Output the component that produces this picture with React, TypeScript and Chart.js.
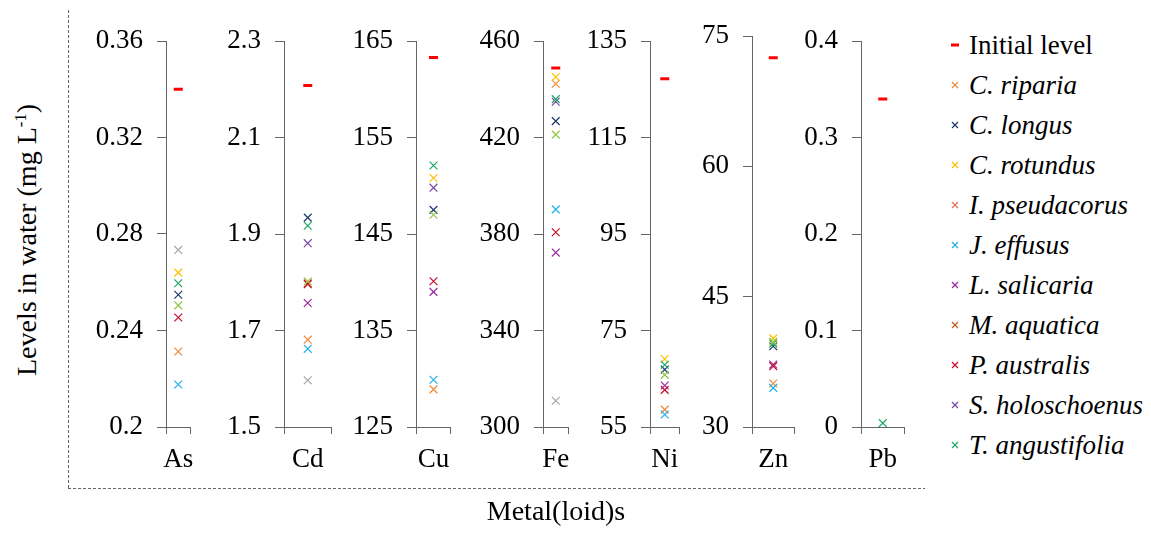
import React, { useEffect, useRef } from 'react';
import { Chart, registerables } from 'chart.js';

Chart.register(...registerables);

const FONT = 'Times New Roman';

// ---- categories and axis ticks ----
const metals = ['As', 'Cd', 'Cu', 'Fe', 'Ni', 'Zn', 'Pb'];
const ticksAs = [0.2, 0.24, 0.28, 0.32, 0.36];
const ticksCd = [1.5, 1.7, 1.9, 2.1, 2.3];
const ticksCu = [125, 135, 145, 155, 165];
const ticksFe = [300, 340, 380, 420, 460];
const ticksNi = [55, 75, 95, 115, 135];
const ticksZn = [30, 45, 60, 75];
const ticksPb = [0, 0.1, 0.2, 0.3, 0.4];
const tickSets = [ticksAs, ticksCd, ticksCu, ticksFe, ticksNi, ticksZn, ticksPb];

// ---- series values (As, Cd, Cu, Fe, Ni, Zn, Pb) ----
const initialLevel = [0.34, 2.208, 163.3, 448.8, 127.2, 72.5, 0.34];
const cRiparia = [0.2313, 1.681, 128.9, 442.3, 58.6, 35.0, null];
const cLongus = [0.2548, 1.934, 147.5, 426.8, 66.9, 39.3, null];
const cRotundus = [0.264, null, 150.8, 445.1, 69.1, 40.2, null];
const iPseudacorus = [null, null, null, null, null, null, null];
const jEffusus = [0.2176, 1.662, 129.9, 390.2, 57.6, 34.5, null];
const lSalicaria = [null, 1.757, 139.0, 372.3, 63.6, 37.2, null];
const mAquatica = [null, 1.798, null, null, null, null, null];
const pAustralis = [0.2454, 1.796, 140.1, 380.7, 62.7, 37.0, null];
const sHoloschoenus = [null, 1.881, 149.8, 434.8, null, null, null];
const tAngustifolia = [0.2596, 1.917, 152.1, 435.9, 67.9, 39.6, 0.004];
const unlistedGrey = [0.2734, 1.597, null, 310.9, null, null, null];
const unlistedLime = [0.2504, 1.802, 147.0, 421.2, 65.8, 39.8, null];

const species = [
  { name: 'C. riparia', values: cRiparia, color: '#EE8A3C', legend: true },
  { name: 'C. longus', values: cLongus, color: '#1F3A6E', legend: true },
  { name: 'C. rotundus', values: cRotundus, color: '#FFC000', legend: true },
  { name: 'I. pseudacorus', values: iPseudacorus, color: '#E8705A', legend: true },
  { name: 'J. effusus', values: jEffusus, color: '#22B2E8', legend: true },
  { name: 'L. salicaria', values: lSalicaria, color: '#9B2A9E', legend: true },
  { name: 'M. aquatica', values: mAquatica, color: '#C0601E', legend: true },
  { name: 'P. australis', values: pAustralis, color: '#C8102E', legend: true },
  { name: 'S. holoschoenus', values: sHoloschoenus, color: '#7A4AA8', legend: true },
  { name: 'T. angustifolia', values: tAngustifolia, color: '#1FA86A', legend: true },
  { name: 'Unlisted (grey)', values: unlistedGrey, color: '#A6A6A6', legend: false },
  { name: 'Unlisted (lime)', values: unlistedLime, color: '#92C84A', legend: false },
];

// ---- panel layout (pixels) ----
const panelAxisX = [166, 284, 416, 543, 650, 752, 861];
const panelRight = [205, 337, 461, 581, 690, 800, 910];
const panelTop = [41, 41, 41, 41, 41, 36, 41];
const AXIS_W = 75;
const CANVAS_H = 535;
const PLOT_BOTTOM = 427;
const XAXIS_H = 60;

const fmt = (v: number) => String(Number(Number(v).toFixed(4)));

function makeChart(canvas: HTMLCanvasElement, i: number) {
  const datasets: any[] = [
    {
      label: 'Initial level',
      data: [initialLevel[i]],
      showLine: false,
      pointStyle: 'line',
      pointRadius: 4.5,
      pointBorderWidth: 3,
      pointBorderColor: '#FF0000',
      pointBackgroundColor: '#FF0000',
      order: 0,
    },
    ...species.map((s, k) => ({
      label: s.name,
      data: [s.values[i]],
      showLine: false,
      pointStyle: 'crossRot',
      pointRadius: 5.5,
      pointBorderWidth: 1.2,
      pointBorderColor: s.color,
      pointBackgroundColor: s.color,
      order: -(k + 1),
    })),
  ];
  const ticks = tickSets[i];
  return new Chart(canvas, {
    type: 'line',
    data: { labels: [metals[i]], datasets },
    options: {
      animation: false,
      responsive: false,
      maintainAspectRatio: false,
      events: [],
      layout: {
        padding: {
          top: panelTop[i],
          bottom: CANVAS_H - PLOT_BOTTOM - XAXIS_H,
          left: 0,
          right: 2,
        },
      },
      plugins: { legend: { display: false }, tooltip: { enabled: false } },
      scales: {
        x: {
          type: 'category',
          offset: true,
          grid: {
            offset: true,
            drawOnChartArea: false,
            drawTicks: true,
            tickLength: 7,
            color: '#666666',
          },
          border: { display: true, color: '#666666', width: 1 },
          ticks: {
            font: { family: FONT, size: 27 },
            color: '#000000',
            padding: 10,
          },
          afterFit: (s: any) => {
            s.height = XAXIS_H;
          },
        },
        y: {
          type: 'linear',
          position: 'left',
          min: ticks[0],
          max: ticks[ticks.length - 1],
          afterBuildTicks: (s: any) => {
            s.ticks = ticks.map((v) => ({ value: v }));
          },
          grid: {
            drawOnChartArea: false,
            drawTicks: true,
            tickLength: 9,
            color: '#666666',
          },
          border: { display: true, color: '#666666', width: 1 },
          ticks: {
            font: { family: FONT, size: 27 },
            color: '#000000',
            padding: 14,
            callback: (v: any) => fmt(v),
          },
          afterFit: (s: any) => {
            s.width = AXIS_W;
          },
        },
      },
    },
  } as any);
}

function Marker({ color, dash }: { color: string; dash?: boolean }) {
  if (dash) {
    return (
      <svg width={10} height={10} style={{ display: 'block' }}>
        <line x1={1} y1={5} x2={9} y2={5} stroke={color} strokeWidth={3} />
      </svg>
    );
  }
  return (
    <svg width={10} height={10} style={{ display: 'block' }}>
      <line x1={2} y1={2} x2={8} y2={8} stroke={color} strokeWidth={1.2} />
      <line x1={8} y1={2} x2={2} y2={8} stroke={color} strokeWidth={1.2} />
    </svg>
  );
}

export default function App() {
  const refs = useRef<(HTMLCanvasElement | null)[]>([]);

  useEffect(() => {
    const charts = metals.map((_, i) => makeChart(refs.current[i] as HTMLCanvasElement, i));
    return () => charts.forEach((c) => c.destroy());
  }, []);

  const legendItems = [
    { name: 'Initial level', color: '#FF0000', dash: true, italic: false },
    ...species.filter((s) => s.legend).map((s) => ({ name: s.name, color: s.color, dash: false, italic: true })),
  ];

  return (
    <div style={{ position: 'relative', width: 1151, height: 535, margin: -8, background: '#ffffff' }}>
      <svg width={1151} height={535} style={{ position: 'absolute', left: 0, top: 0 }}>
        <line x1={68.5} y1={10} x2={68.5} y2={488.5} stroke="#666" strokeWidth={1} strokeDasharray="3 2" />
        <line x1={68} y1={488.5} x2={925} y2={488.5} stroke="#666" strokeWidth={1} strokeDasharray="3 2" />
      </svg>

      {metals.map((m, i) => {
        const w = panelRight[i] - panelAxisX[i] + AXIS_W + 2;
        return (
          <canvas
            key={m}
            ref={(el) => {
              refs.current[i] = el;
            }}
            width={w}
            height={CANVAS_H}
            style={{
              position: 'absolute',
              left: panelAxisX[i] - AXIS_W,
              top: 0,
              width: w,
              height: CANVAS_H,
            }}
          />
        );
      })}

      <div
        style={{
          position: 'absolute',
          left: 27,
          top: 240,
          transform: 'translate(-50%, -50%) rotate(-90deg)',
          whiteSpace: 'nowrap',
          fontFamily: FONT,
          fontSize: 28,
          lineHeight: '30px',
          color: '#000',
        }}
      >
        Levels in water (mg L<sup style={{ fontFamily: FONT, fontSize: '0.6em', lineHeight: 0 }}>-1</sup>)
      </div>

      <div
        style={{
          position: 'absolute',
          left: 556,
          top: 497,
          transform: 'translateX(-50%)',
          whiteSpace: 'nowrap',
          fontFamily: FONT,
          fontSize: 28,
          lineHeight: '28px',
          color: '#000',
        }}
      >
        Metal(loid)s
      </div>

      {legendItems.map((it, k) => (
        <div
          key={it.name}
          style={{
            position: 'absolute',
            left: 950,
            top: 25 + k * 40,
            height: 40,
            display: 'flex',
            alignItems: 'center',
            whiteSpace: 'nowrap',
          }}
        >
          <Marker color={it.color} dash={it.dash} />
          <span
            style={{
              marginLeft: 9,
              fontFamily: FONT,
              fontSize: 27,
              lineHeight: '40px',
              fontStyle: it.italic ? 'italic' : 'normal',
              color: '#000',
            }}
          >
            {it.name}
          </span>
        </div>
      ))}
    </div>
  );
}
